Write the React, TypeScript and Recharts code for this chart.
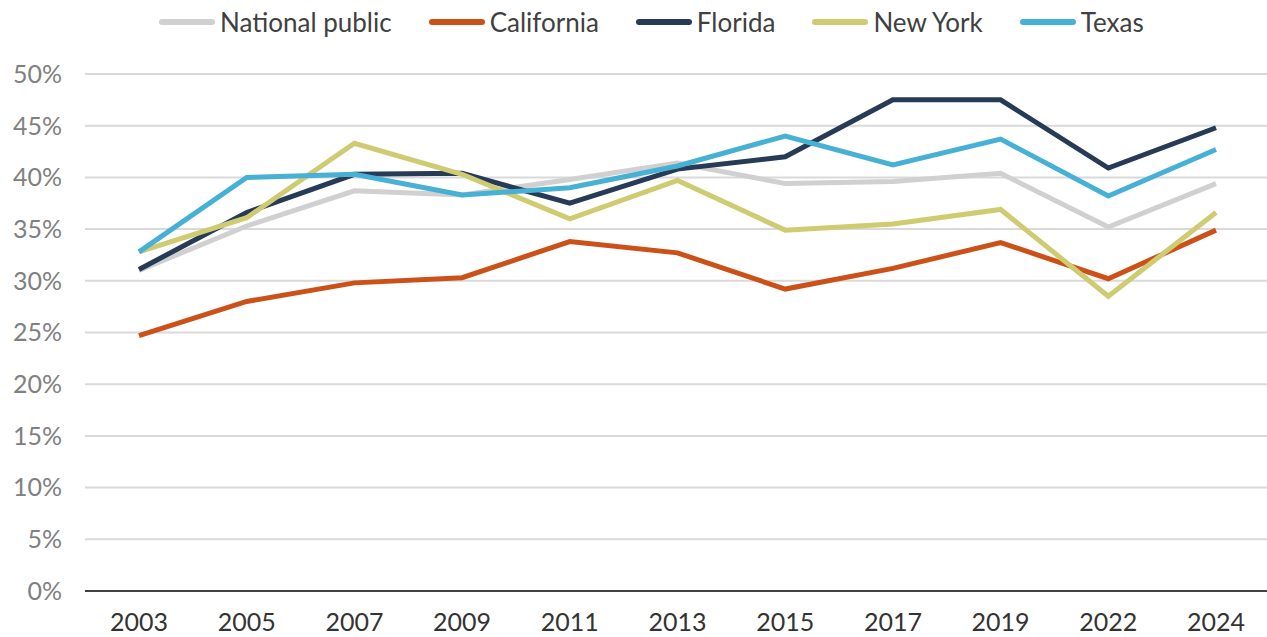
import { LineChart, Line, XAxis, YAxis, CartesianGrid } from "recharts";

const years = ["2003", "2005", "2007", "2009", "2011", "2013", "2015", "2017", "2019", "2022", "2024"];
const nationalPublic = [31.0, 35.3, 38.7, 38.3, 39.8, 41.4, 39.4, 39.6, 40.4, 35.2, 39.4];
const california = [24.7, 28.0, 29.8, 30.3, 33.8, 32.7, 29.2, 31.2, 33.7, 30.2, 34.9];
const florida = [31.1, 36.6, 40.3, 40.4, 37.5, 40.8, 42.0, 47.5, 47.5, 40.9, 44.8];
const newYork = [32.8, 36.1, 43.3, 40.3, 36.0, 39.7, 34.9, 35.5, 36.9, 28.5, 36.6];
const texas = [32.8, 40.0, 40.3, 38.3, 39.0, 41.1, 44.0, 41.2, 43.7, 38.2, 42.7];
const yTicks = [0, 5, 10, 15, 20, 25, 30, 35, 40, 45, 50];

const series = [
  { key: "nationalPublic", name: "National public", color: "#d0d0d0" },
  { key: "california", name: "California", color: "#cc5119" },
  { key: "florida", name: "Florida", color: "#273a56" },
  { key: "newYork", name: "New York", color: "#cfcb71" },
  { key: "texas", name: "Texas", color: "#46b1d4" },
];

const data = years.map((year, i) => ({
  year,
  nationalPublic: nationalPublic[i],
  california: california[i],
  florida: florida[i],
  newYork: newYork[i],
  texas: texas[i],
}));

const font = "Lato, 'Open Sans', sans-serif";

const App: React.FC = () => (
  <div style={{ position: "absolute", left: 0, top: 0, width: 1267, height: 637, overflow: "hidden" }}>
    <div
      style={{
        position: "absolute",
        top: 6,
        left: 159,
        display: "flex",
        alignItems: "center",
        fontFamily: font,
        fontSize: 26,
        lineHeight: "32px",
        color: "#404040",
      }}
    >
      {series.map((s) => (
        <div key={s.key} style={{ display: "flex", alignItems: "center", marginRight: 37 }}>
          <span
            style={{
              display: "inline-block",
              width: 56,
              height: 6,
              borderRadius: 3,
              background: s.color,
              marginRight: 5,
            }}
          />
          <span>{s.name}</span>
        </div>
      ))}
    </div>
    <LineChart width={1267} height={637} data={data} margin={{ top: 74, right: -3, left: 0, bottom: 0 }}>
      <CartesianGrid vertical={false} stroke="#d9d9d9" strokeWidth={2} />
      <XAxis
        dataKey="year"
        height={46}
        padding={{ left: 54, right: 54 }}
        axisLine={{ stroke: "#404040", strokeWidth: 2 }}
        tickLine={false}
        tickMargin={16}
        tick={{ fill: "#333333", fontSize: 25, fontFamily: font }}
      />
      <YAxis
        width={85}
        domain={[0, 50]}
        ticks={yTicks}
        tickFormatter={(v) => `${v}%`}
        axisLine={false}
        tickLine={false}
        tickMargin={17}
        tick={{ fill: "#808080", fontSize: 25, fontFamily: font }}
      />
      {series.map((s) => (
        <Line
          key={s.key}
          type="linear"
          dataKey={s.key}
          name={s.name}
          stroke={s.color}
          strokeWidth={5}
          dot={false}
          isAnimationActive={false}
        />
      ))}
    </LineChart>
  </div>
);

export default App;
